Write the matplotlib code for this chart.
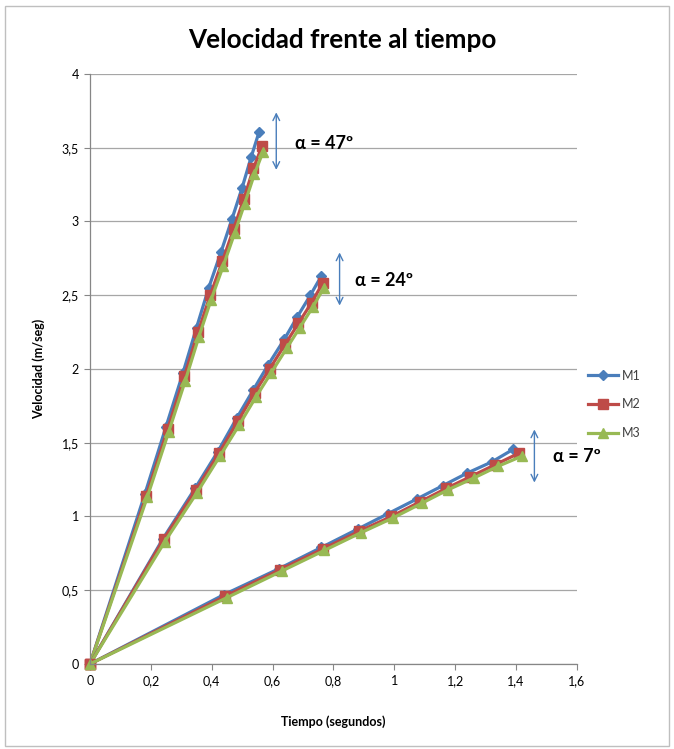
import matplotlib
matplotlib.use("Agg")
import matplotlib.pyplot as plt
from matplotlib.patches import Rectangle
from matplotlib.ticker import FixedLocator, FuncFormatter

plt.rcParams['font.family'] = ['Lato', 'DejaVu Sans']

# --- data: time (s) and velocity (m/s) for three runs at three slopes ---
series_names = ["M1", "M2", "M3"]
angle_labels = ["α = 47º", "α = 24º", "α = 7º"]

t_47 = {
    "M1": [0, 0.18, 0.25, 0.305, 0.35, 0.39, 0.43, 0.467, 0.50, 0.53, 0.556],
    "M2": [0, 0.185, 0.255, 0.31, 0.355, 0.395, 0.435, 0.472, 0.505, 0.537, 0.565],
    "M3": [0, 0.188, 0.258, 0.313, 0.358, 0.398, 0.438, 0.475, 0.508, 0.54, 0.568],
}
v_47 = {
    "M1": [0, 1.15, 1.61, 1.97, 2.28, 2.55, 2.79, 3.02, 3.23, 3.44, 3.61],
    "M2": [0, 1.14, 1.59, 1.95, 2.25, 2.50, 2.73, 2.95, 3.15, 3.36, 3.51],
    "M3": [0, 1.13, 1.57, 1.92, 2.22, 2.47, 2.70, 2.92, 3.12, 3.32, 3.47],
}
t_24 = {
    "M1": [0, 0.24, 0.345, 0.42, 0.483, 0.537, 0.586, 0.638, 0.68, 0.724, 0.76],
    "M2": [0, 0.243, 0.348, 0.424, 0.487, 0.541, 0.59, 0.642, 0.685, 0.728, 0.764],
    "M3": [0, 0.246, 0.351, 0.427, 0.49, 0.545, 0.594, 0.646, 0.689, 0.732, 0.768],
}
v_24 = {
    "M1": [0, 0.85, 1.19, 1.44, 1.67, 1.86, 2.03, 2.20, 2.35, 2.50, 2.63],
    "M2": [0, 0.85, 1.18, 1.43, 1.65, 1.84, 2.00, 2.17, 2.31, 2.45, 2.58],
    "M3": [0, 0.83, 1.16, 1.41, 1.62, 1.81, 1.97, 2.14, 2.28, 2.42, 2.55],
}
t_7 = {
    "M1": [0, 0.44, 0.62, 0.76, 0.88, 0.98, 1.075, 1.16, 1.24, 1.32, 1.39],
    "M2": [0, 0.445, 0.625, 0.765, 0.885, 0.99, 1.085, 1.17, 1.25, 1.33, 1.41],
    "M3": [0, 0.45, 0.63, 0.77, 0.89, 0.995, 1.09, 1.175, 1.26, 1.34, 1.42],
}
v_7 = {
    "M1": [0, 0.47, 0.645, 0.79, 0.915, 1.02, 1.12, 1.21, 1.295, 1.37, 1.455],
    "M2": [0, 0.46, 0.64, 0.78, 0.90, 1.00, 1.10, 1.19, 1.27, 1.35, 1.43],
    "M3": [0, 0.45, 0.63, 0.77, 0.89, 0.99, 1.09, 1.18, 1.26, 1.34, 1.41],
}

x_ticks = [0, 0.2, 0.4, 0.6, 0.8, 1.0, 1.2, 1.4, 1.6]
y_ticks = [0, 0.5, 1, 1.5, 2, 2.5, 3, 3.5, 4]

# angle marker: arrow x, arrow y-span, label position
arrow_x = [0.612, 0.82, 1.46]
arrow_y = [(3.35, 3.74), (2.43, 2.79), (1.23, 1.59)]
label_xy = [(0.673, 3.53), (0.87, 2.6), (1.52, 1.41)]

styles = {
    "M1": dict(color="#4A7EBB", marker="D", markersize=5.5),
    "M2": dict(color="#BE4B48", marker="s", markersize=6.5),
    "M3": dict(color="#98B954", marker="^", markersize=7.5),
}

fig = plt.figure(figsize=(6.74, 7.49), dpi=100)
fig.patches.append(Rectangle((0.007, 0.004), 0.985, 0.988, transform=fig.transFigure,
                             fill=False, edgecolor="#BFBFBF", linewidth=1.0))

ax = fig.add_axes([0.1335, 0.1135, 0.7226, 0.7877])

for t_grp, v_grp in ((t_47, v_47), (t_24, v_24), (t_7, v_7)):
    for name in series_names:
        st = styles[name]
        ax.plot(t_grp[name], v_grp[name], color=st["color"], marker=st["marker"],
                markersize=st["markersize"], linewidth=2.3,
                markeredgecolor=st["color"], clip_on=False,
                label=name if t_grp is t_47 else None)

ax.set_xlim(0, 1.6)
ax.set_ylim(0, 4)
ax.xaxis.set_major_locator(FixedLocator(x_ticks))
ax.yaxis.set_major_locator(FixedLocator(y_ticks))
fmt = FuncFormatter(lambda v, p: ("%g" % v).replace(".", ","))
ax.xaxis.set_major_formatter(fmt)
ax.yaxis.set_major_formatter(fmt)
ax.tick_params(axis="both", labelsize=9, length=4, color="#868686", width=0.8,
               pad=4, labelcolor="#000000")
ax.grid(axis="y", color="#A6A6A6", linewidth=0.9)
ax.set_axisbelow(True)
for side in ("top", "right"):
    ax.spines[side].set_visible(False)
for side in ("left", "bottom"):
    ax.spines[side].set_color("#868686")
    ax.spines[side].set_linewidth(0.9)

ax.set_xlabel("Tiempo (segundos)", fontsize=9, fontweight="bold", labelpad=20)
ax.set_ylabel("Velocidad (m/seg)", fontsize=9, fontweight="bold", labelpad=12)

for xa, (y0, y1), (lx, ly), lab in zip(arrow_x, arrow_y, label_xy, angle_labels):
    ax.annotate("", xy=(xa, y1), xytext=(xa, y0),
                arrowprops=dict(arrowstyle="<->", color="#4A7EBB", lw=1.0,
                                mutation_scale=12, shrinkA=0, shrinkB=0),
                annotation_clip=False)
    ax.text(lx, ly, lab, fontsize=13, fontweight="bold", ha="left", va="center",
            clip_on=False)

fig.text(0.508, 0.947, "Velocidad frente al tiempo", fontsize=18.8, fontweight="bold",
         ha="center", va="center")

leg = ax.legend(loc="center left", bbox_to_anchor=(1.0, 0.44), frameon=False,
                fontsize=9, handlelength=2.4, labelspacing=1.35, handletextpad=0.3)
for txt in leg.get_texts():
    txt.set_color("#404040")

fig.savefig("out.png", dpi=100)
